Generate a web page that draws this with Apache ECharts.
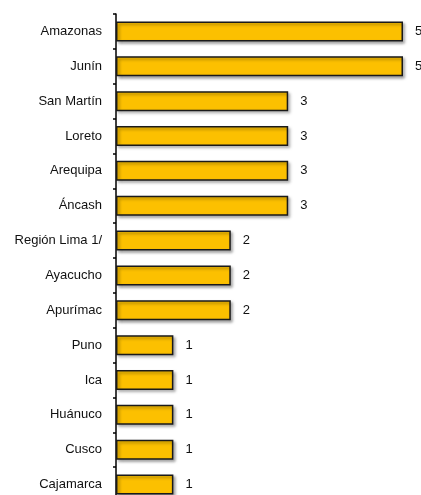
<!DOCTYPE html>
<html><head><meta charset="utf-8">
<script src="https://cdn.jsdelivr.net/npm/echarts@6/dist/echarts.min.js"></script>
<style>html,body{margin:0;padding:0;background:#fff}#c{width:421px;height:495px}</style>
</head><body><div id="c"></div>
<script>
const categories = ["Amazonas","Junín","San Martín","Loreto","Arequipa","Áncash","Región Lima 1/","Ayacucho","Apurímac","Puno","Ica","Huánuco","Cusco","Cajamarca"];
const values = [5,5,3,3,3,3,2,2,2,1,1,1,1,1];
const FONT = "'Liberation Sans Narrow','Arial Narrow','Liberation Sans',sans-serif";
const chart = echarts.init(document.getElementById('c'));
chart.setOption({
  animation:false,
  grid:{left:116, top:14, width:287, height:488, outerBoundsMode:'none', containLabel:false},
  xAxis:{type:'value', min:0, max:5, show:false, splitLine:{show:false}},
  yAxis:{type:'category', data:categories, inverse:true,
    axisLine:{lineStyle:{color:'#000', width:1.5}},
    axisTick:{show:true, length:3, lineStyle:{color:'#000', width:1.5}},
    axisLabel:{color:'#111', fontSize:13, fontFamily:FONT, margin:14}
  },
  series:[{type:'bar', data:values, barWidth:20,
    itemStyle:{color:'#FCC000', borderColor:'#1a1a1a', borderWidth:1.5,
      shadowColor:'rgba(0,0,0,0.35)', shadowBlur:3, shadowOffsetX:2, shadowOffsetY:2},
    label:{show:true, position:'right', distance:12, color:'#111', fontSize:13, fontFamily:FONT}
  }]
});
</script></body></html>
